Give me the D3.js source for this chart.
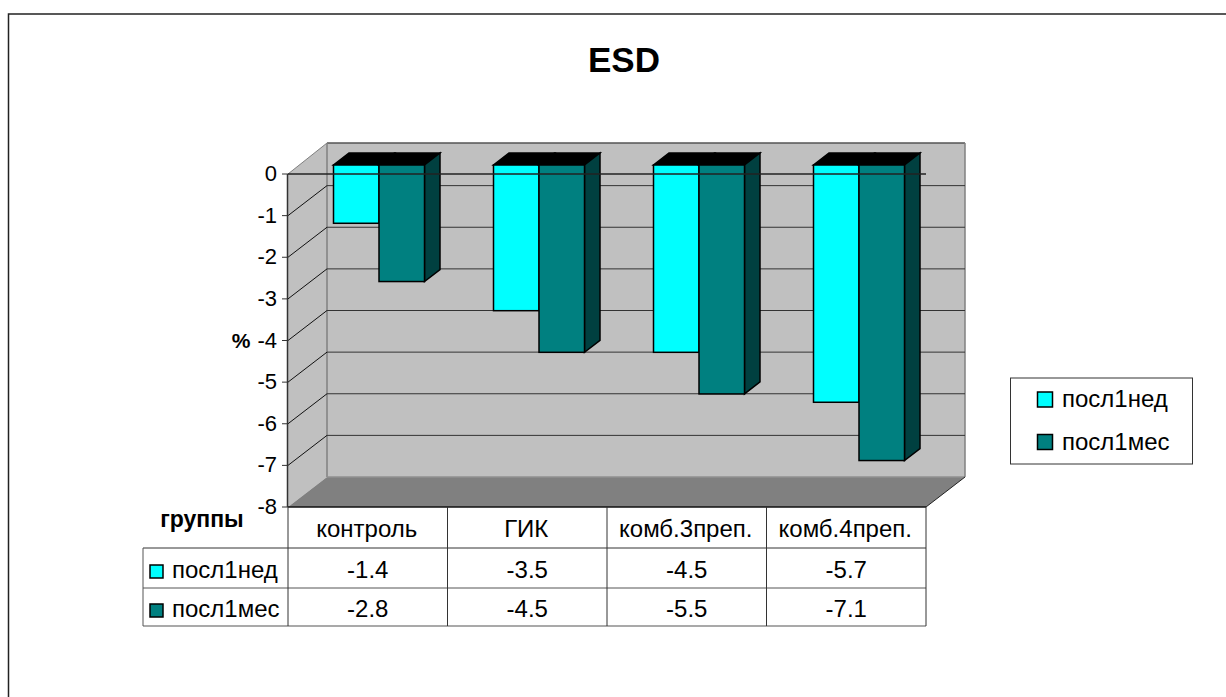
<!DOCTYPE html>
<html><head><meta charset="utf-8">
<script src="https://cdn.jsdelivr.net/npm/d3@7/dist/d3.min.js"></script>
<style>html,body{margin:0;padding:0;background:#fff}svg{display:block}text{font-family:"Liberation Sans",Arial,sans-serif;fill:#000}</style>
</head><body><svg id="c" width="1226" height="697"></svg>
<script>
const title = "ESD";
const categories = ["контроль","ГИК","комб.3преп.","комб.4преп."];
const seriesNames = ["посл1нед","посл1мес"];
const week = [-1.4,-3.5,-4.5,-5.7];
const month = [-2.8,-4.5,-5.5,-7.1];
const seriesColors = ["#00ffff","#008080"];
const sideColor = "#004040";
const ticks = [0,-1,-2,-3,-4,-5,-6,-7,-8];
const yTitle = "%", xTitle = "группы";

const svg = d3.select("#c");
const y = d3.scaleLinear().domain([0,-8]).range([174,507]);
const x = d3.scaleBand().domain(categories).range([288,926]);
const xBars = d3.scaleBand().domain(categories).range([288,928]);
const depth = {dx:39, dy:-30, top:-31};
const barOff = {x0:11, y0:-9, dx:15.5, dy:-12};
const line = (x1,y1,x2,y2,c="#000",w=1)=>svg.append("line").attr("x1",x1).attr("y1",y1).attr("x2",x2).attr("y2",y2).attr("stroke",c).attr("stroke-width",w);
const poly = (pts,fill,stroke,w=1)=>svg.append("polygon").attr("points",pts.map(p=>p.join(",")).join(" ")).attr("fill",fill).attr("stroke",stroke||"none").attr("stroke-width",w).attr("stroke-linejoin","miter");
const FS=24;

svg.append("rect").attr("x",8.5).attr("y",14).attr("width",1300).attr("height",800).attr("fill","#fff").attr("stroke","#222").attr("stroke-width",1.5);
svg.append("text").attr("x",624).attr("y",72).attr("text-anchor","middle").attr("font-size",35).attr("font-weight","bold").text(title);

const L=x.range()[0],R=x.range()[1],T=y(0),B=y(-8);
const bx=depth.dx, tY=T+depth.top, bY=B+depth.dy;
poly([[L+bx,tY],[R+bx,tY],[R+bx,bY],[L+bx,bY]],"#c0c0c0");
poly([[L,T],[L+bx,tY],[L+bx,bY],[L,B]],"#c0c0c0");
poly([[L,B],[L+bx,bY],[R+bx,bY],[R,B]],"#808080");
line(L+bx,tY,R+bx,tY,"#555",1.3);
line(L,T,L+bx,tY,"#808080",1);
line(L+bx,tY,L+bx,bY,"#808080",1.5);
line(L+bx,bY,R+bx,bY,"#909090",1.5);
line(R+bx,tY,R+bx,bY,"#808080",1.5);
line(R,B,R+bx,bY,"#222",1);
ticks.slice(1,-1).forEach(t=>{
  line(L,y(t),L+bx,y(t)+depth.dy,"#111",1);
  line(L+bx,y(t)+depth.dy,R+bx,y(t)+depth.dy,"#333",1);
});
[week,month].forEach((vals,si)=>{
  vals.forEach((v,i)=>{
    const c=categories[i], bw=45.5;
    const cx=xBars(c)+xBars.bandwidth()/2+barOff.x0;
    const x0=cx+(si-1)*bw, x1=x0+bw;
    const yt=y(0)+barOff.y0, yb=y(v)+barOff.y0;
    const dx=barOff.dx, dy=barOff.dy;
    poly([[x0,yt],[x1,yt],[x1+dx,yt+dy],[x0+dx,yt+dy]],"#000","#000",1.5);
    if(si===1) poly([[x1,yt],[x1+dx,yt+dy],[x1+dx,yb+dy],[x1,yb]],sideColor,"#000",1.5);
    svg.append("rect").attr("x",x0).attr("y",yt).attr("width",bw).attr("height",yb-yt).attr("fill",seriesColors[si]).attr("stroke","#000").attr("stroke-width",1.5);
  });
});
line(L-0.5,T,L-0.5,B,"#333",1.5);
line(L,T,R,T,"#222",1.3);
line(L,B,R,B,"#111",1.5);
ticks.forEach(t=>{
  line(L-6,y(t),L,y(t),"#333",1);
  svg.append("text").attr("x",L-11).attr("y",y(t)+7).attr("text-anchor","end").attr("font-size",22).text(t);
});
svg.append("text").attr("x",241).attr("y",348).attr("text-anchor","middle").attr("font-size",21).attr("font-weight","bold").text(yTitle);
svg.append("text").attr("x",202).attr("y",527).attr("text-anchor","middle").attr("font-size",FS-1).attr("font-weight","bold").text(xTitle);
const rowY=[507,548,588,626], tL=143;
const tblC="#333";
line(tL,rowY[1],R,rowY[1],tblC); line(tL,rowY[2],R,rowY[2],"#555"); line(tL,rowY[3],R,rowY[3],"#555",1.2);
line(tL,rowY[1],tL,rowY[3],"#555");
[...categories.map(c=>x(c)),R].forEach(px=>line(px,rowY[0],px,rowY[3],tblC));
categories.forEach((c,i)=>{
  const cx=x(c)+x.bandwidth()/2;
  svg.append("text").attr("x",cx-1).attr("y",537).attr("text-anchor","middle").attr("font-size",FS).text(c);
  svg.append("text").attr("x",cx).attr("y",578).attr("text-anchor","middle").attr("font-size",FS).text(week[i].toFixed(1));
  svg.append("text").attr("x",cx).attr("y",617).attr("text-anchor","middle").attr("font-size",FS).text(month[i].toFixed(1));
});
seriesNames.forEach((n,i)=>{
  const ym=[572,611][i];
  svg.append("rect").attr("x",150).attr("y",ym-7).attr("width",13).attr("height",13).attr("fill",seriesColors[i]).attr("stroke","#000").attr("stroke-width",1.5);
  svg.append("text").attr("x",172).attr("y",ym+6).attr("font-size",FS).text(n);
});
svg.append("rect").attr("x",1010.5).attr("y",378).attr("width",182).attr("height",86).attr("fill","#fff").attr("stroke","#333");
seriesNames.forEach((n,i)=>{
  const ym=[399.5,442][i];
  svg.append("rect").attr("x",1037.5).attr("y",ym-7.5).attr("width",15).attr("height",15).attr("fill",seriesColors[i]).attr("stroke","#000").attr("stroke-width",1.5);
  svg.append("text").attr("x",1062).attr("y",ym+7.5).attr("font-size",FS).text(n);
});
</script></body></html>
